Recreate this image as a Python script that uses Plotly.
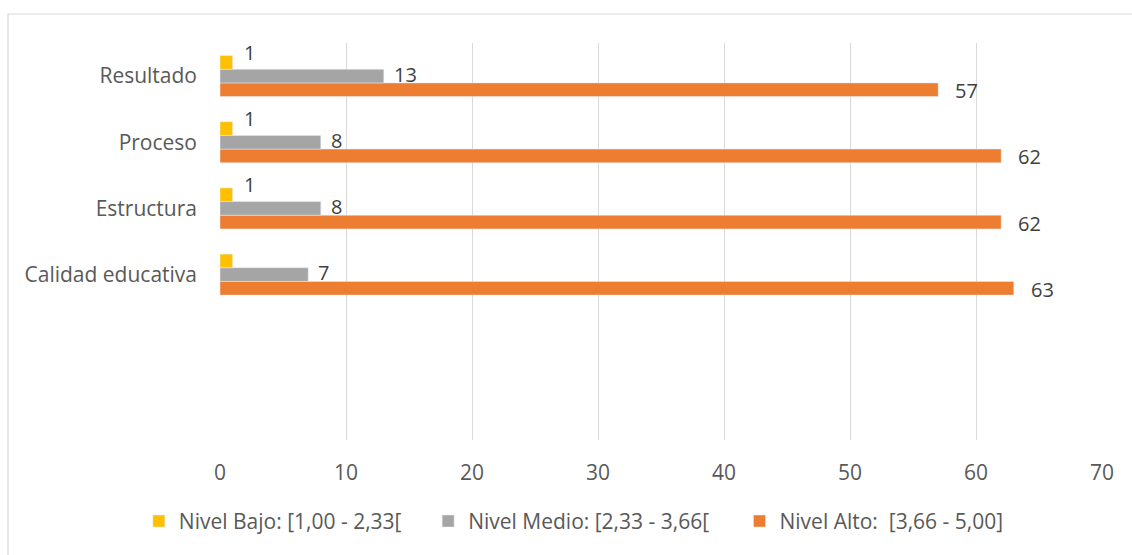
import plotly.graph_objects as go

categories = ["Calidad educativa", "Estructura", "Proceso", "Resultado"]
bajo = [1, 1, 1, 1]
medio = [7, 8, 8, 13]
alto = [63, 62, 62, 57]
bajo_labels = ["", "1", "1", "1"]
medio_labels = ["7", "8", "8", "13"]
alto_labels = ["63", "62", "62", "57"]
series_names = ["Nivel Bajo: [1,00 - 2,33[", "Nivel Medio: [2,33 - 3,66[", "Nivel Alto:  [3,66 - 5,00]"]
x_ticks = [0, 10, 20, 30, 40, 50, 60, 70]

colors = {"bajo": "#FFC000", "medio": "#A5A5A5", "alto": "#ED7D31"}
FONT = "Open Sans"
BARGAP = 0.38
bar_w = (1 - BARGAP) / 3

fig = go.Figure()
# Alto first so it sits at the bottom of each group (Excel-like order)
fig.add_trace(go.Bar(y=categories, x=alto, orientation="h", name=series_names[2],
                     marker=dict(color=colors["alto"]), legend="legend3", hoverinfo="x+name"))
fig.add_trace(go.Bar(y=categories, x=medio, orientation="h", name=series_names[1],
                     marker=dict(color=colors["medio"]), legend="legend2", hoverinfo="x+name"))
fig.add_trace(go.Bar(y=categories, x=bajo, orientation="h", name=series_names[0],
                     marker=dict(color=colors["bajo"]), legend="legend", hoverinfo="x+name"))

annotations = []
specs = [
    (bajo, bajo_labels, +bar_w, 9, 10),
    (medio, medio_labels, 0.0, 8, 2),
    (alto, alto_labels, -bar_w, 15, -1),
]
for vals, labels, yoff, xs, ys in specs:
    for i, (v, t) in enumerate(zip(vals, labels)):
        if not t:
            continue
        annotations.append(dict(x=v, y=i + yoff, xref="x", yref="y", text=t, showarrow=False,
                                xanchor="left", yanchor="middle", xshift=xs, yshift=ys,
                                font=dict(family=FONT, size=20, color="#404040")))

legend_common = dict(orientation="h", yanchor="middle", y=-0.205, xanchor="left",
                     font=dict(family=FONT, size=21, color="#595959"),
                     bgcolor="rgba(0,0,0,0)", itemwidth=30)

fig.update_layout(
    width=1132, height=555,
    margin=dict(l=220, r=30, t=43, b=115),
    paper_bgcolor="white", plot_bgcolor="white",
    barmode="group", bargap=BARGAP, bargroupgap=0,
    annotations=annotations,
    showlegend=True,
    legend=dict(x=-0.092, **legend_common),
    legend2=dict(x=0.236, **legend_common),
    legend3=dict(x=0.589, **legend_common),
    xaxis=dict(range=[0, 70], tickvals=x_ticks, showgrid=True, gridcolor="#D9D9D9", gridwidth=1.4,
               zeroline=False, showline=False, ticks="",
               tickfont=dict(family=FONT, size=21, color="#595959"), ticklabelstandoff=18),
    yaxis=dict(type="category", range=[-2.5, 3.5], showgrid=False, zeroline=False, showline=False,
               ticks="", tickfont=dict(family=FONT, size=21, color="#595959"), ticklabelstandoff=22),
    shapes=[dict(type="rect", xref="paper", yref="paper", x0=(8 - 220) / 882, x1=1.3,
                 y0=-1.0, y1=(440 - 14) / 397, line=dict(color="#D9D9D9", width=1.2),
                 fillcolor="rgba(0,0,0,0)", layer="below")],
)

fig.write_html("out.html", config={"displayModeBar": False},
               post_script="document.body.style.margin='0';")
